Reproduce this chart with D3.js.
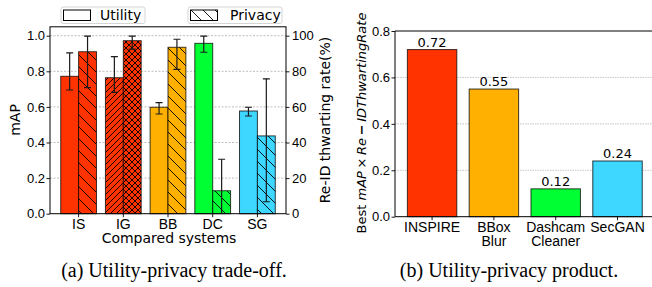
<!DOCTYPE html>
<html>
<head>
<meta charset="utf-8">
<script src="https://cdn.jsdelivr.net/npm/d3@7"></script>
<style>
body { margin: 0; background: #fff; }
svg { display: block; font-family: "DejaVu Sans", sans-serif; }
.cap { font-family: "Liberation Serif", "Times New Roman", serif; }
</style>
</head>
<body>
<svg width="652" height="287"></svg>
<script>
// (a) utility vs privacy
var systems = ["IS", "IG", "BB", "DC", "SG"];
var utility = [0.772, 0.764, 0.598, 0.957, 0.577];
var utilityLo = [0.695, 0.682, 0.560, 0.907, 0.549];
var utilityHi = [0.904, 0.882, 0.624, 0.998, 0.598];
var privacy = [91.0, 97.2, 93.5, 12.9, 43.7];
var privacyLo = [70.8, 92.5, 81.1, -4.8, 6.7];
var privacyHi = [99.8, 99.8, 98.0, 30.6, 75.8];
var mapTicks = [0, 0.2, 0.4, 0.6, 0.8, 1.0];
var rateTicks = [0, 20, 40, 60, 80, 100];
var legendLabels = ["Utility", "Privacy"];

// (b) product
var methods = ["INSPIRE", "BBox\nBlur", "Dashcam\nCleaner", "SecGAN"];
var product = [0.72, 0.55, 0.12, 0.24];
var productTicks = [0, 0.2, 0.4, 0.6, 0.8];

var sysColor = ["#ff3300", "#ff3300", "#ffb000", "#00ff33", "#3dd7ff"];
var utilHatch = ["", "//", "", "", ""];
var privHatch = ["\\", "xx", "\\", "\\", "\\"];
var prodColor = ["#ff3300", "#ffb000", "#00ff33", "#3dd7ff"];

var svg = d3.select("svg");
var defs = svg.append("defs");

function hatchFill(color, hatch) {
    if (!hatch) return color;
    var kind = hatch[0] == "/" ? "f" : (hatch[0] == "x" ? "x" : "b");
    var id = "h" + color.slice(1) + kind + hatch.length;
    if (defs.select("#" + id).empty()) {
        var p = 12 / hatch.length;
        var pat = defs.append("pattern")
            .attr("id", id)
            .attr("patternUnits", "userSpaceOnUse")
            .attr("width", p).attr("height", p);
        pat.append("rect").attr("width", p).attr("height", p).attr("fill", color);
        var d = "";
        if (kind != "f") {
            d += "M-1,-1L" + (p + 1) + "," + (p + 1);
            d += "M" + (p - 1) + ",-1L" + (p + 1) + ",1";
            d += "M-1," + (p - 1) + "L1," + (p + 1);
        }
        if (kind != "b") {
            d += "M-1," + (p + 1) + "L" + (p + 1) + ",-1";
            d += "M-1,1L1,-1";
            d += "M" + (p - 1) + "," + (p + 1) + "L" + (p + 1) + "," + (p - 1);
        }
        pat.append("path").attr("d", d).attr("stroke", "#000").attr("stroke-width", 0.9).attr("fill", "none");
    }
    return "url(#" + id + ")";
}

function styleAxis(g) {
    g.select(".domain").remove();
    g.selectAll(".tick line").attr("stroke", "#000").attr("stroke-width", 0.9);
    g.selectAll(".tick text").attr("fill", "#000").style("font-size", "13px");
}

// ---------- left chart ----------
var L = {left: 50, right: 286, top: 26.8, bottom: 213.7};

var x0 = d3.scaleBand().domain(systems).range([L.left, L.right]).paddingInner(0).paddingOuter(0.14);
var x1 = d3.scaleBand().domain(["u", "p"]).range([0.1 * x0.bandwidth(), 0.9 * x0.bandwidth()]);
var yMap = d3.scaleLinear().domain([0, 1.05]).range([L.bottom, L.top]);
var yRate = d3.scaleLinear().domain([0, 105]).range([L.bottom, L.top]);

defs.append("clipPath").attr("id", "clipL")
    .append("rect").attr("x", L.left).attr("y", L.top)
    .attr("width", L.right - L.left).attr("height", L.bottom - L.top);

svg.append("g").selectAll("line")
    .data(mapTicks.slice(1))
    .join("line")
    .attr("x1", L.left).attr("x2", L.right)
    .attr("y1", function(d) { return yMap(d) })
    .attr("y2", function(d) { return yMap(d) })
    .attr("stroke", "#b5b5b5").attr("stroke-width", 0.9).attr("stroke-dasharray", "2,1.5");

var bars = svg.append("g");
bars.selectAll("rect.u")
    .data(systems)
    .join("rect")
    .attr("class", "u")
    .attr("x", function(d) { return x0(d) + x1("u") })
    .attr("width", x1.bandwidth())
    .attr("y", function(d, i) { return yMap(utility[i]) })
    .attr("height", function(d, i) { return yMap(0) - yMap(utility[i]) })
    .attr("fill", function(d, i) { return hatchFill(sysColor[i], utilHatch[i]) })
    .attr("stroke", "#000").attr("stroke-opacity", 0.75).attr("stroke-width", 1);
bars.selectAll("rect.p")
    .data(systems)
    .join("rect")
    .attr("class", "p")
    .attr("x", function(d) { return x0(d) + x1("p") })
    .attr("width", x1.bandwidth())
    .attr("y", function(d, i) { return yRate(privacy[i]) })
    .attr("height", function(d, i) { return yRate(0) - yRate(privacy[i]) })
    .attr("fill", function(d, i) { return hatchFill(sysColor[i], privHatch[i]) })
    .attr("stroke", "#000").attr("stroke-opacity", 0.75).attr("stroke-width", 1);

var errs = [];
systems.forEach(function(s, i) {
    errs.push({x: x0(s) + x1("u") + x1.bandwidth() / 2, lo: yMap(utilityLo[i]), hi: yMap(utilityHi[i])});
    errs.push({x: x0(s) + x1("p") + x1.bandwidth() / 2, lo: yRate(privacyLo[i]), hi: yRate(privacyHi[i])});
});
var eg = svg.append("g").attr("clip-path", "url(#clipL)")
    .attr("stroke", "#1a1a1a").attr("stroke-width", 1.2);
eg.selectAll("line.v").data(errs).join("line").attr("class", "v")
    .attr("x1", function(d) { return d.x }).attr("x2", function(d) { return d.x })
    .attr("y1", function(d) { return d.lo }).attr("y2", function(d) { return d.hi });
eg.selectAll("line.t").data(errs).join("line").attr("class", "t")
    .attr("x1", function(d) { return d.x - 3.5 }).attr("x2", function(d) { return d.x + 3.5 })
    .attr("y1", function(d) { return d.hi }).attr("y2", function(d) { return d.hi });
eg.selectAll("line.b").data(errs).join("line").attr("class", "b")
    .attr("x1", function(d) { return d.x - 3.5 }).attr("x2", function(d) { return d.x + 3.5 })
    .attr("y1", function(d) { return d.lo }).attr("y2", function(d) { return d.lo });

svg.append("rect")
    .attr("x", L.left).attr("y", L.top)
    .attr("width", L.right - L.left).attr("height", L.bottom - L.top)
    .attr("fill", "none").attr("stroke", "#000").attr("stroke-width", 1);

svg.append("g").attr("transform", "translate(" + L.left + ",0)")
    .call(d3.axisLeft(yMap).tickValues(mapTicks).tickFormat(d3.format(".1f")).tickSize(3.5).tickPadding(1.5))
    .call(styleAxis);
svg.append("g").attr("transform", "translate(" + L.right + ",0)")
    .call(d3.axisRight(yRate).tickValues(rateTicks).tickSize(3.5).tickPadding(2.5))
    .call(styleAxis);
svg.append("g").attr("transform", "translate(0," + L.bottom + ")")
    .call(d3.axisBottom(x0).tickSize(3.5).tickPadding(1.5))
    .call(styleAxis)
    .selectAll(".tick text").style("font-size", "14px");

svg.append("text").attr("transform", "translate(20,120) rotate(-90)")
    .attr("text-anchor", "middle").style("font-size", "14px").text("mAP");
svg.append("text").attr("transform", "translate(330,120) rotate(-90)")
    .attr("text-anchor", "middle").style("font-size", "14px").text("Re-ID thwarting rate(%)");
svg.append("text").attr("x", 169).attr("y", 243.3)
    .attr("text-anchor", "middle").style("font-size", "14px").text("Compared systems");

// legend
var legX = [61, 188];
var legW = [84, 94];
var lg = svg.append("g").selectAll("g")
    .data(legendLabels)
    .join("g")
    .attr("transform", function(d, i) { return "translate(" + legX[i] + ",7)" });
lg.append("rect").attr("width", function(d, i) { return legW[i] }).attr("height", 16.5)
    .attr("rx", 2).attr("fill", "#fff").attr("stroke", "#d0d0d0").attr("stroke-width", 0.9);
lg.append("rect").attr("x", 2.5).attr("y", 3).attr("width", 27).attr("height", 10.5)
    .attr("fill", function(d, i) { return i == 0 ? "#fff" : hatchFill("#ffffff", "\\") })
    .attr("stroke", "#000").attr("stroke-width", 1);
lg.append("text").attr("x", function(d, i) { return i == 0 ? 39 : 42 }).attr("y", 12.5)
    .style("font-size", "14px").text(function(d) { return d });

svg.append("text").attr("class", "cap").attr("x", 174).attr("y", 277)
    .attr("text-anchor", "middle").style("font-size", "20px").text("(a) Utility-privacy trade-off.");

// ---------- right chart ----------
var R = {left: 395, right: 654.6, top: 31, bottom: 216.7};
var xP = d3.scaleBand().domain(methods).range([R.left, R.right]).paddingInner(0.2).paddingOuter(0.2);
var yP = d3.scaleLinear().domain([0, 0.8]).range([R.bottom, R.top]);

svg.append("g").selectAll("line")
    .data(productTicks.slice(1, -1))
    .join("line")
    .attr("x1", R.left).attr("x2", R.right)
    .attr("y1", function(d) { return yP(d) })
    .attr("y2", function(d) { return yP(d) })
    .attr("stroke", "#c0c0c0").attr("stroke-width", 0.9).attr("stroke-dasharray", "1.5,1");

svg.append("g").selectAll("rect")
    .data(methods)
    .join("rect")
    .attr("x", function(d) { return xP(d) })
    .attr("width", xP.bandwidth())
    .attr("y", function(d, i) { return yP(product[i]) })
    .attr("height", function(d, i) { return yP(0) - yP(product[i]) })
    .attr("fill", function(d, i) { return prodColor[i] })
    .attr("stroke", "#000").attr("stroke-opacity", 0.75).attr("stroke-width", 1);

svg.append("g").selectAll("text")
    .data(methods)
    .join("text")
    .attr("x", function(d) { return xP(d) + xP.bandwidth() / 2 })
    .attr("y", function(d, i) { return yP(product[i]) - 2.7 })
    .attr("text-anchor", "middle").style("font-size", "13px")
    .text(function(d, i) { return product[i].toFixed(2) });

svg.append("path")
    .attr("d", "M" + R.right + "," + R.top + "H" + R.left + "V" + R.bottom + "H" + R.right)
    .attr("fill", "none").attr("stroke", "#000").attr("stroke-width", 1);

svg.append("g").attr("transform", "translate(" + R.left + ",0)")
    .call(d3.axisLeft(yP).tickValues(productTicks).tickFormat(d3.format(".1f")).tickSize(3.5).tickPadding(1.5))
    .call(styleAxis);
var gxP = svg.append("g").attr("transform", "translate(0," + R.bottom + ")")
    .call(d3.axisBottom(xP).tickSize(3.5).tickPadding(1.5))
    .call(styleAxis);
gxP.selectAll(".tick text").style("font-size", "14px").each(function(d) {
    var t = d3.select(this);
    t.text(null).attr("dy", null);
    d.split("\n").forEach(function(line, i) {
        t.append("tspan").attr("x", 0).attr("dy", i == 0 ? "0.71em" : "1.05em").text(line);
    });
});

var yl = svg.append("text").attr("transform", "translate(366,123) rotate(-90)")
    .attr("text-anchor", "middle").style("font-size", "13px");
yl.append("tspan").text("Best ");
yl.append("tspan").style("font-style", "italic").text("mAP");
yl.append("tspan").text("\u2009\u00d7\u2009");
yl.append("tspan").style("font-style", "italic").text("Re");
yl.append("tspan").style("font-weight", "bold").text("\u2009\u2212\u2009");
yl.append("tspan").style("font-style", "italic").text("IDThwartingRate");

svg.append("text").attr("class", "cap").attr("x", 509).attr("y", 277)
    .attr("text-anchor", "middle").style("font-size", "20px").text("(b) Utility-privacy product.");
</script>
</body>
</html>
